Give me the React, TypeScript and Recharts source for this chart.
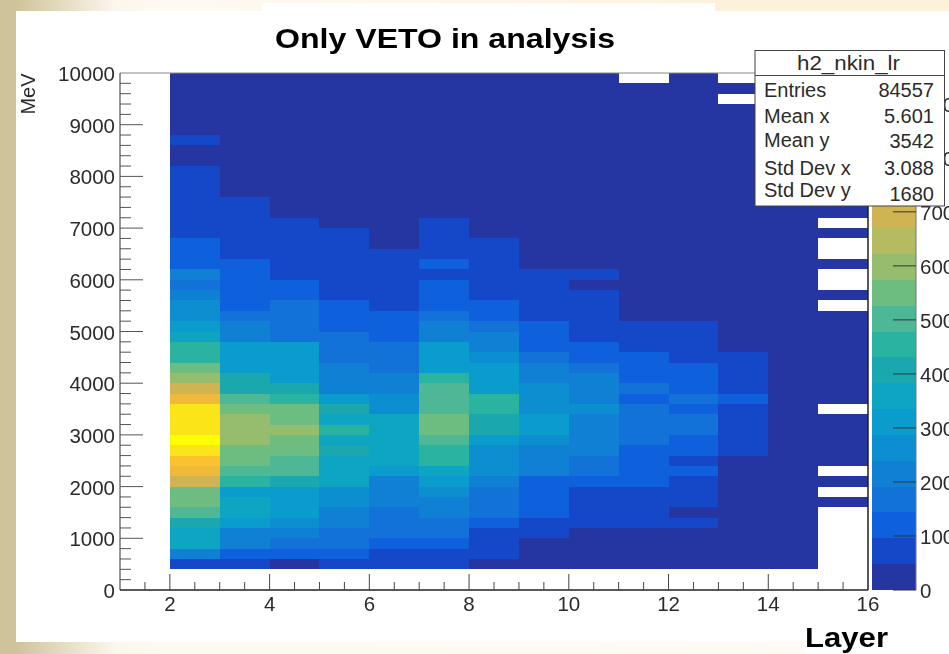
import React from 'react';
import { ComposedChart, BarChart, Bar, XAxis, YAxis, ReferenceArea, ReferenceLine } from 'recharts';

// bottom edge of each energy bin runs 400, 600 ... 9800 MeV, 48 bins per layer
const binStart = 400;
const binWidth = 200;

const layer2 = [
  70, 215, 360, 360, 405, 500, 550, 550, 690, 740,
  790, 885, 935, 885, 885, 885, 740, 690, 600, 550,
  455, 455, 360, 310, 260, 260, 215, 165, 215, 120,
  120, 120, 70, 70, 70, 70, 70, 70, 70, 12,
  12, 70, 12, 12, 12, 12, 12, 12,
];
const layer3 = [
  70, 120, 215, 215, 310, 360, 360, 310, 455, 500,
  550, 550, 600, 600, 600, 550, 500, 405, 405, 310,
  310, 310, 215, 215, 165, 120, 120, 120, 120, 120,
  70, 70, 70, 70, 70, 70, 12, 12, 12, 12,
  12, 12, 12, 12, 12, 12, 12, 12,
];
const layer4 = [
  12, 120, 165, 215, 260, 310, 310, 310, 405, 500,
  500, 550, 550, 600, 550, 550, 455, 405, 310, 310,
  310, 310, 165, 165, 165, 165, 120, 120, 70, 70,
  70, 70, 70, 70, 12, 12, 12, 12, 12, 12,
  12, 12, 12, 12, 12, 12, 12, 12,
];
const layer5 = [
  70, 120, 165, 165, 215, 215, 260, 260, 360, 360,
  360, 405, 360, 455, 360, 405, 310, 215, 215, 215,
  165, 165, 165, 120, 120, 120, 70, 70, 70, 70,
  70, 70, 70, 12, 12, 12, 12, 12, 12, 12,
  12, 12, 12, 12, 12, 12, 12, 12,
];
const layer6 = [
  70, 70, 120, 165, 165, 165, 215, 215, 215, 310,
  360, 360, 360, 360, 360, 260, 260, 215, 215, 165,
  165, 165, 120, 120, 120, 70, 70, 70, 70, 70,
  70, 12, 12, 12, 12, 12, 12, 12, 12, 12,
  12, 12, 12, 12, 12, 12, 12, 12,
];
const layer7 = [
  70, 70, 120, 165, 165, 215, 215, 260, 310, 360,
  455, 455, 500, 550, 550, 500, 500, 500, 455, 310,
  310, 310, 215, 215, 165, 120, 120, 120, 70, 120,
  70, 70, 70, 70, 12, 12, 12, 12, 12, 12,
  12, 12, 12, 12, 12, 12, 12, 12,
];
const layer8 = [
  12, 70, 70, 70, 120, 165, 165, 165, 215, 260,
  260, 260, 310, 405, 405, 455, 455, 310, 310, 310,
  260, 215, 215, 165, 120, 120, 70, 70, 70, 70,
  70, 70, 12, 12, 12, 12, 12, 12, 12, 12,
  12, 12, 12, 12, 12, 12, 12, 12,
];
const layer9 = [
  12, 12, 12, 70, 70, 120, 120, 120, 120, 215,
  215, 215, 260, 310, 310, 260, 260, 260, 215, 215,
  165, 120, 120, 120, 70, 70, 70, 70, 70, 12,
  12, 12, 12, 12, 12, 12, 12, 12, 12, 12,
  12, 12, 12, 12, 12, 12, 12, 12,
];
const layer10 = [
  12, 12, 12, 12, 70, 70, 70, 70, 120, 165,
  165, 215, 215, 215, 215, 260, 215, 215, 215, 165,
  120, 120, 70, 70, 70, 70, 70, 12, 70, 12,
  12, 12, 12, 12, 12, 12, 12, 12, 12, 12,
  12, 12, 12, 12, 12, 12, 12, 12,
];
const layer11 = [
  12, 12, 12, 12, 70, 70, 70, 70, 120, 120,
  120, 120, 165, 165, 165, 165, 120, 165, 120, 120,
  120, 70, 70, 70, 12, 12, 12, 12, 12, 12,
  12, 12, 12, 12, 12, 12, 12, 12, 12, 12,
  12, 12, 12, 12, 12, 12, 12, 0,
];
const layer12 = [
  12, 12, 12, 12, 70, 12, 70, 70, 70, 120,
  70, 120, 120, 165, 165, 120, 165, 120, 120, 120,
  70, 70, 70, 70, 12, 12, 12, 12, 12, 12,
  12, 12, 12, 12, 12, 12, 12, 12, 12, 12,
  12, 12, 12, 12, 12, 12, 12, 12,
];
const layer13 = [
  12, 12, 12, 12, 12, 12, 12, 12, 12, 12,
  12, 70, 70, 70, 70, 70, 120, 70, 70, 70,
  70, 12, 12, 12, 12, 12, 12, 12, 12, 12,
  12, 12, 12, 12, 12, 12, 12, 12, 12, 12,
  12, 12, 12, 12, 12, 0, 12, 0,
];
const layer14 = [
  12, 12, 12, 12, 12, 12, 12, 12, 12, 12,
  12, 12, 12, 12, 12, 12, 12, 12, 12, 12,
  12, 12, 12, 12, 12, 12, 12, 12, 12, 12,
  12, 12, 12, 12, 12, 12, 12, 12, 12, 12,
  12, 12, 12, 12, 12, 12, 12, 12,
];
const layer15 = [
  0, 0, 0, 0, 0, 0, 12, 0, 12, 0,
  12, 12, 12, 12, 12, 0, 12, 12, 12, 12,
  12, 12, 12, 12, 12, 0, 12, 0, 0, 12,
  0, 0, 12, 0, 12, 12, 12, 12, 12, 12,
  12, 12, 12, 12, 12, 12, 12, 12,
];

const layers = [layer2, layer3, layer4, layer5, layer6, layer7, layer8, layer9, layer10, layer11, layer12, layer13, layer14, layer15];
const firstLayer = 2;

const palette = [
  '#2536a3', '#1548c8', '#0e60dc', '#1272d8', '#0f80d4', '#0d8ed0', '#0a9ccc', '#0ea5c2', '#1aa7ad', '#2ab3a0',
  '#4eb795', '#6dbd80', '#96bc6e', '#b5bb60', '#d0b454', '#f0b93a', '#f9c22e', '#ffd024', '#fbe518', '#ffff00',
];
const zMax = 957;
const zStep = zMax / palette.length;
const zTicks = [0, 100, 200, 300, 400, 500, 600, 700, 800, 900];

const xTicks = [1, 1.5, 2, 2.5, 3, 3.5, 4, 4.5, 5, 5.5, 6, 6.5, 7, 7.5, 8, 8.5, 9, 9.5, 10, 10.5, 11, 11.5, 12, 12.5, 13, 13.5, 14, 14.5, 15, 15.5, 16];
const yTicks = [
  0, 200, 400, 600, 800, 1000, 1200, 1400, 1600, 1800, 2000, 2200, 2400, 2600, 2800, 3000, 3200, 3400, 3600, 3800, 4000,
  4200, 4400, 4600, 4800, 5000, 5200, 5400, 5600, 5800, 6000, 6200, 6400, 6600, 6800, 7000, 7200, 7400, 7600, 7800, 8000,
  8200, 8400, 8600, 8800, 9000, 9200, 9400, 9600, 9800, 10000,
];

const statNames = ['Entries', 'Mean x', 'Mean y', 'Std Dev x', 'Std Dev y'];
const statValues = ['84557', '5.601', '3542', '3.088', '1680'];
const statNameY = [97, 123, 147, 175, 197];
const statValueY = [97, 123, 148, 175, 201];

const FONT = '"Liberation Sans", Arial, sans-serif';
const TICK_SIZE = 20.5;
const TEXT = '#2b2b2b';

const colorOf = (z: number) => palette[Math.min(palette.length - 1, Math.floor(z / zStep))];

const XTick = ({ x, y, payload }: any) => {
  const v = payload.value;
  const major = v % 2 === 0;
  return (
    <g>
      {v !== 1 && v !== 16 && <line x1={x} x2={x} y1={y} y2={y - (major ? 16 : 8)} stroke="#444" />}
      {major && (
        <text x={x} y={y + 21} textAnchor="middle" fontSize={TICK_SIZE} fontFamily={FONT} fill={TEXT}>
          {v}
        </text>
      )}
    </g>
  );
};

const YTick = ({ x, y, payload }: any) => {
  const v = payload.value;
  const major = v % 1000 === 0;
  return (
    <g>
      {v !== 0 && v !== 10000 && <line x1={x} x2={x + (major ? 23 : 11)} y1={y} y2={y} stroke="#555" />}
      {major && (
        <text x={x - 5} y={y + 8} textAnchor="end" fontSize={TICK_SIZE} fontFamily={FONT} fill={TEXT}>
          {v}
        </text>
      )}
    </g>
  );
};

const ZTick = ({ x, y, payload }: any) => (
  <g>
    <line x1={x} x2={x - 23} y1={y} y2={y} stroke="#333" />
    <text x={x + 4} y={y + 8} fontSize={TICK_SIZE} fontFamily={FONT} fill={TEXT}>
      {payload.value}
    </text>
  </g>
);

const colorBarRow = [{ name: 'z', ...Object.fromEntries(palette.map((_, i) => [`level${i}`, zStep])) }];

function StatsBox() {
  return (
    <svg width={949} height={654} style={{ position: 'absolute', left: 0, top: 0 }}>
      <text x={275} y={48} textLength={340} lengthAdjust="spacingAndGlyphs" fontSize={28} fontWeight="bold" fontFamily={FONT} fill="#000">
        Only VETO in analysis
      </text>
      <text x={805} y={647} textLength={83} lengthAdjust="spacingAndGlyphs" fontSize={28} fontWeight="bold" fontFamily={FONT} fill="#000">
        Layer
      </text>
      <text transform="translate(35,94) rotate(-90)" textAnchor="middle" fontSize={20} fontFamily={FONT} fill={TEXT}>
        MeV
      </text>
      <rect x={755} y={50.5} width={189.5} height={155.5} fill="#fff" stroke="#444" />
      <line x1={755} x2={944} y1={75.5} y2={75.5} stroke="#444" />
      <text x={797} y={70} textLength={103} lengthAdjust="spacingAndGlyphs" fontSize={20} fontFamily={FONT} fill={TEXT}>
        h2_nkin_lr
      </text>
      {statNames.map((name, i) => (
        <text key={name} x={764} y={statNameY[i]} fontSize={20} fontFamily={FONT} fill={TEXT}>
          {name}
        </text>
      ))}
      {statValues.map((val, i) => (
        <text key={val} x={934} y={statValueY[i]} textAnchor="end" fontSize={20} fontFamily={FONT} fill={TEXT}>
          {val}
        </text>
      ))}
    </svg>
  );
}

export default function App() {
  return (
    <div style={{ position: 'absolute', left: 0, top: 0, width: 949, height: 654, overflow: 'hidden', background: '#fff' }}>
      {/* slide background peeking out around the white plot */}
      <div style={{ position: 'absolute', left: 0, top: 0, width: 16, height: 654, background: '#cfc39b' }} />
      <div
        style={{
          position: 'absolute', left: 16, top: 0, width: 933, height: 11,
          background: 'linear-gradient(to right, #cfc39b 0px, #e6dec4 50px, #fbf7ec 100px, #fefaf2 150px, #fef6e8 500px, #fdf1dc 700px)',
        }}
      />
      <div style={{ position: 'absolute', left: 262, top: 3, width: 453, height: 8, background: '#fff' }} />
      <div
        style={{
          position: 'absolute', left: 16, top: 642, width: 789, height: 12,
          background: 'linear-gradient(to right, #cfc39b 0px, #e6dec4 50px, #fbf7ec 100px, #fefaf2 150px, #fffbf4 789px)',
        }}
      />

      <div style={{ position: 'absolute', left: 0, top: 0, width: 949, height: 654, filter: 'blur(0.45px)' }}>
        <div style={{ position: 'absolute', left: 0, top: 0 }}>
          <ComposedChart width={949} height={654} margin={{ top: 73, right: 81, bottom: 24, left: 60 }}>
            <XAxis
              dataKey="x"
              type="number"
              domain={[1, 16]}
              ticks={xTicks}
              interval={0}
              allowDataOverflow
              height={40}
              tickSize={0}
              tickMargin={0}
              tickLine={false}
              tick={XTick}
              axisLine={{ stroke: '#222', strokeWidth: 1.5 }}
            />
            <YAxis
              type="number"
              domain={[0, 10000]}
              ticks={yTicks}
              interval={0}
              allowDataOverflow
              width={60}
              tickSize={0}
              tickMargin={0}
              tickLine={false}
              tick={YTick}
              axisLine={{ stroke: '#333' }}
            />
            {layers.map((counts, col) =>
              counts.map((z, row) =>
                z > 0 ? (
                  <ReferenceArea
                    key={`${col}-${row}`}
                    x1={firstLayer + col}
                    x2={firstLayer + col + 1}
                    y1={binStart + row * binWidth}
                    y2={binStart + (row + 1) * binWidth}
                    fill={colorOf(z)}
                    fillOpacity={1}
                    stroke="none"
                    shapeRendering="crispEdges"
                  />
                ) : null,
              ),
            )}
            <ReferenceLine y={10000} stroke="#888" />
            <ReferenceLine x={16} stroke="#222" strokeWidth={1.5} />
          </ComposedChart>
        </div>

        <div style={{ position: 'absolute', left: 0, top: 0 }}>
          <BarChart
            width={949}
            height={654}
            data={colorBarRow}
            margin={{ top: 73, right: 0, bottom: 64, left: 872 }}
            barCategoryGap={0}
            barGap={0}
          >
            <XAxis hide dataKey="name" />
            {palette.map((c, i) => (
              <Bar key={c} dataKey={`level${i}`} stackId="z" fill={c} shapeRendering="crispEdges" isAnimationActive={false} />
            ))}
            <YAxis
              orientation="right"
              type="number"
              domain={[0, zMax]}
              ticks={zTicks}
              interval={0}
              allowDataOverflow
              width={33}
              tickSize={0}
              tickMargin={0}
              tickLine={false}
              tick={ZTick}
              axisLine={{ stroke: '#777' }}
            />
          </BarChart>
        </div>

        <StatsBox />
      </div>
    </div>
  );
}
